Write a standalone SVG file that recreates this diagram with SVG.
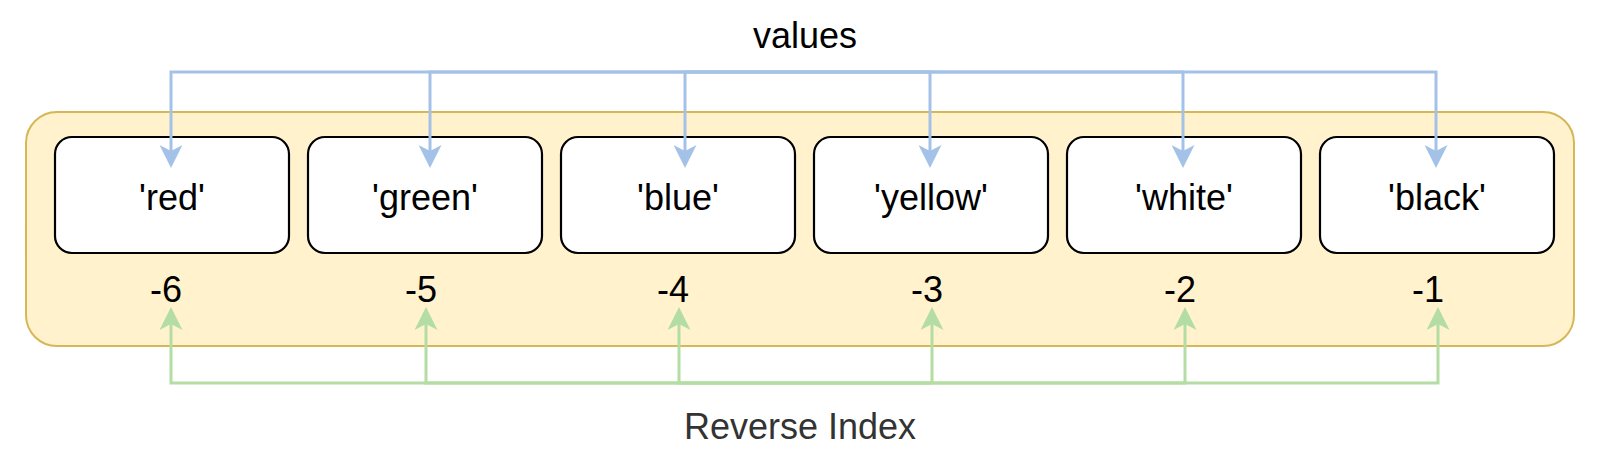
<svg xmlns="http://www.w3.org/2000/svg" width="1599" height="455" viewBox="0 0 1599 455">
<style>
.box{fill:#ffffff;stroke:#000000;stroke-width:2.2}
.t{font-family:"Liberation Sans",Arial,Helvetica,sans-serif;font-size:36px;fill:#000000;text-anchor:middle}
.lab{fill:#333333}
.blue{fill:none;stroke:#A4C2E8;stroke-width:3}
.green{fill:none;stroke:#B3DDA3;stroke-width:3}
</style>
<defs>
<marker id="ab" viewBox="0 0 23 23" markerWidth="23" markerHeight="23" markerUnits="userSpaceOnUse" refX="6" refY="11.5" orient="auto">
<path d="M0,0 L23,11.5 L0,23 L6,11.5 Z" fill="#A4C2E8"/>
</marker>
<marker id="ag" viewBox="0 0 23 23" markerWidth="23" markerHeight="23" markerUnits="userSpaceOnUse" refX="6" refY="11.5" orient="auto">
<path d="M0,0 L23,11.5 L0,23 L6,11.5 Z" fill="#B3DDA3"/>
</marker>
</defs>
<g id="container"><rect x="26" y="112" width="1548" height="234" rx="31" fill="#FFF2CC" stroke="#D6B656" stroke-width="2"/></g>
<g id="box-red"><rect class="box" x="55" y="137" width="234" height="116" rx="17"/><text class="t" x="172" y="210">'red'</text></g>
<g id="box-green"><rect class="box" x="308" y="137" width="234" height="116" rx="17"/><text class="t" x="425" y="210">'green'</text></g>
<g id="box-blue"><rect class="box" x="561" y="137" width="234" height="116" rx="17"/><text class="t" x="678" y="210">'blue'</text></g>
<g id="box-yellow"><rect class="box" x="814" y="137" width="234" height="116" rx="17"/><text class="t" x="931" y="210">'yellow'</text></g>
<g id="box-white"><rect class="box" x="1067" y="137" width="234" height="116" rx="17"/><text class="t" x="1184" y="210">'white'</text></g>
<g id="box-black"><rect class="box" x="1320" y="137" width="234" height="116" rx="17"/><text class="t" x="1437" y="210">'black'</text></g>
<g id="idx-6"><text class="t" x="166" y="302">-6</text></g>
<g id="idx-5"><text class="t" x="421" y="302">-5</text></g>
<g id="idx-4"><text class="t" x="673" y="302">-4</text></g>
<g id="idx-3"><text class="t" x="927" y="302">-3</text></g>
<g id="idx-2"><text class="t" x="1180" y="302">-2</text></g>
<g id="idx-1"><text class="t" x="1428" y="302">-1</text></g>
<g id="values"><text class="t" x="805" y="48">values</text></g>
<g id="reverse-index"><text class="t lab" x="800" y="439">Reverse Index</text></g>
<g id="connectors">
<path class="blue" d="M805,72 H171 V151" marker-end="url(#ab)"/>
<path class="blue" d="M805,72 H430 V151" marker-end="url(#ab)"/>
<path class="blue" d="M805,72 H685 V151" marker-end="url(#ab)"/>
<path class="blue" d="M805,72 H930 V151" marker-end="url(#ab)"/>
<path class="blue" d="M805,72 H1183 V151" marker-end="url(#ab)"/>
<path class="blue" d="M805,72 H1436 V151" marker-end="url(#ab)"/>
<path class="green" d="M805,383 H171 V324" marker-end="url(#ag)"/>
<path class="green" d="M805,383 H426 V324" marker-end="url(#ag)"/>
<path class="green" d="M805,383 H679 V324" marker-end="url(#ag)"/>
<path class="green" d="M805,383 H932 V324" marker-end="url(#ag)"/>
<path class="green" d="M805,383 H1185 V324" marker-end="url(#ag)"/>
<path class="green" d="M805,383 H1438 V324" marker-end="url(#ag)"/>
</g>
</svg>
